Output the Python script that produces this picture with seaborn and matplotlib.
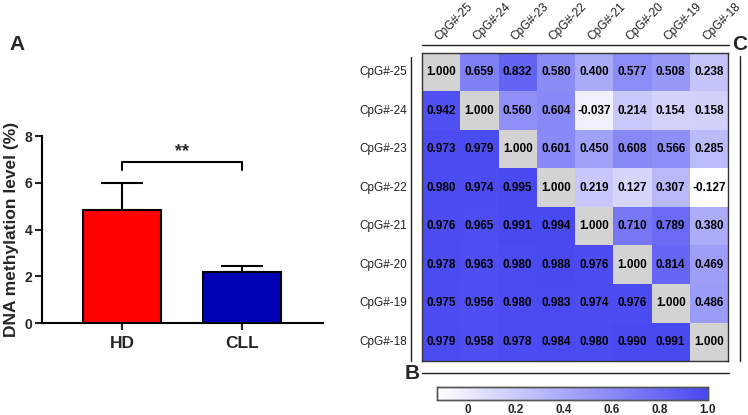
import numpy as np
import pandas as pd
import matplotlib
matplotlib.use('Agg')
import matplotlib.pyplot as plt
import seaborn as sns
from matplotlib.colors import LinearSegmentedColormap, ListedColormap
from matplotlib.lines import Line2D

sns.set_style('white')
plt.rcParams['font.family'] = ['Liberation Sans', 'DejaVu Sans']

# bar chart data (A)
groups = ['HD', 'CLL']
means = [4.85, 2.2]
sd_up = [1.12, 0.23]
bar_colors = ['#ff0000', '#0000b4']

# correlation matrix (C)
cpg = ['CpG#-25', 'CpG#-24', 'CpG#-23', 'CpG#-22', 'CpG#-21', 'CpG#-20', 'CpG#-19', 'CpG#-18']
r25 = [1.000, 0.659, 0.832, 0.580, 0.400, 0.577, 0.508, 0.238]
r24 = [0.942, 1.000, 0.560, 0.604, -0.037, 0.214, 0.154, 0.158]
r23 = [0.973, 0.979, 1.000, 0.601, 0.450, 0.608, 0.566, 0.285]
r22 = [0.980, 0.974, 0.995, 1.000, 0.219, 0.127, 0.307, -0.127]
r21 = [0.976, 0.965, 0.991, 0.994, 1.000, 0.710, 0.789, 0.380]
r20 = [0.978, 0.963, 0.980, 0.988, 0.976, 1.000, 0.814, 0.469]
r19 = [0.975, 0.956, 0.980, 0.983, 0.974, 0.976, 1.000, 0.486]
r18 = [0.979, 0.958, 0.978, 0.984, 0.980, 0.990, 0.991, 1.000]
cbar_ticks = [0, 0.2, 0.4, 0.6, 0.8, 1.0]
cbar_labels = ['0', '0.2', '0.4', '0.6', '0.8', '1.0']

W, H = 748, 415
fig = plt.figure(figsize=(W / 100, H / 100), dpi=100)


def box(x0, y0, x1, y1):
    # pixel box (top-left origin) -> figure fraction rect
    return [x0 / W, 1 - y1 / H, (x1 - x0) / W, (y1 - y0) / H]


# ---------- panel A ----------
ax = fig.add_axes(box(42, 136, 323, 323))
df = pd.DataFrame({'group': groups, 'value': means})
sns.barplot(data=df, x='group', y='value', hue='group', palette=bar_colors, saturation=1,
            width=0.65, edgecolor='black', linewidth=1.5, legend=False, ax=ax, zorder=2)
ax.errorbar(range(len(groups)), means, yerr=[np.zeros(len(sd_up)), sd_up], fmt='none',
            ecolor='black', elinewidth=1.5, capsize=15, capthick=1.5, zorder=1)
ax.set_xlim(-0.667, 1.675)
ax.set_ylim(0, 8)
ax.set_yticks([0, 2, 4, 6, 8])
ax.set_xlabel('')
ax.set_ylabel('DNA methylation level (%)', fontsize=12.5, fontweight='bold', labelpad=4)
for s in ['top', 'right']:
    ax.spines[s].set_visible(False)
for s in ['left', 'bottom']:
    ax.spines[s].set_linewidth(1.5)
    ax.spines[s].set_color('black')
ax.tick_params(axis='y', direction='out', length=5, width=1.5, labelsize=10, pad=2)
ax.tick_params(axis='x', direction='out', length=5, width=1.5, labelsize=12.5, pad=4)
ax.tick_params(left=True, bottom=True)
for t in ax.get_xticklabels() + ax.get_yticklabels():
    t.set_fontweight('bold')
# significance bracket
ax.plot([0, 0, 1, 1], [6.55, 6.88, 6.88, 6.55], color='black', lw=1.5, clip_on=False)
ax.text(0.5, 6.95, '**', ha='center', va='bottom', fontsize=13, fontweight='bold')
fig.text(17 / W, 1 - 45 / H, 'A', ha='center', va='center', fontsize=15, fontweight='bold')

# ---------- panel C ----------
mat = pd.DataFrame([r25, r24, r23, r22, r21, r20, r19, r18], index=cpg, columns=cpg)
diag = np.eye(len(cpg), dtype=bool)
cmap = LinearSegmentedColormap.from_list('wb', ['#ffffff', '#4848f2'])
hax = fig.add_axes(box(422, 53, 728, 361))
cax = fig.add_axes(box(437, 387, 708, 400))
annot_style = {'fontsize': 8.5, 'fontweight': 'bold', 'color': 'black'}
sns.heatmap(mat, mask=diag, cmap=cmap, vmin=-0.127, vmax=1.0, annot=True, fmt='.3f',
            annot_kws=annot_style, cbar=True, cbar_ax=cax,
            cbar_kws={'orientation': 'horizontal', 'ticks': cbar_ticks}, ax=hax)
sns.heatmap(mat, mask=~diag, cmap=ListedColormap(['#d3d3d3']), annot=True, fmt='.3f',
            annot_kws=annot_style, cbar=False, ax=hax)
hax.xaxis.tick_top()
hax.set_xticklabels(cpg, rotation=45, ha='left', va='bottom', rotation_mode='anchor',
                    fontsize=8.5, color='#222222')
hax.set_yticklabels(cpg, rotation=0, fontsize=8.5, color='#222222')
hax.tick_params(axis='both', length=0)
hax.tick_params(axis='x', pad=7)
hax.tick_params(axis='y', pad=11)
hax.set_xlabel('')
hax.set_ylabel('')
for s in hax.spines.values():
    s.set_visible(True)
    s.set_color('#333333')
    s.set_linewidth(1.0)

cax.set_xticklabels(cbar_labels)
cax.tick_params(axis='x', which='both', direction='in', top=True, bottom=True,
                length=4, width=1.2, color='#222222', labelsize=8.5, pad=3)
for t in cax.get_xticklabels():
    t.set_fontweight('bold')
for s in cax.spines.values():
    s.set_visible(True)
    s.set_color('#555555')
    s.set_linewidth(1.0)


# decorative frame lines and panel letters
def line(x0, y0, x1, y1):
    fig.add_artist(Line2D([x0 / W, x1 / W], [1 - y0 / H, 1 - y1 / H], color='#222222', lw=1.0))


line(422, 45, 729, 45)
line(411, 57, 411, 361)
line(740, 56, 740, 361)
line(422, 373, 729, 373)
fig.text(740 / W, 1 - 45 / H, 'C', ha='center', va='center', fontsize=15, fontweight='bold')
fig.text(412 / W, 1 - 373 / H, 'B', ha='center', va='center', fontsize=15, fontweight='bold')

fig.savefig('out.png', dpi=100)
